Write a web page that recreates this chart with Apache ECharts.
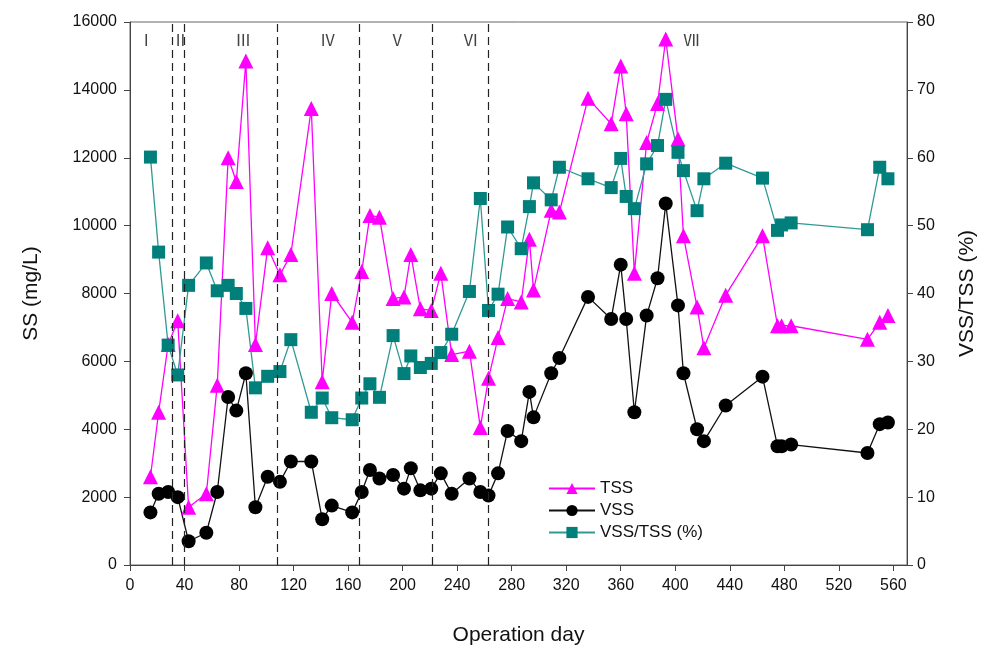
<!DOCTYPE html>
<html>
<head>
<meta charset="utf-8">
<script src="https://cdn.jsdelivr.net/npm/echarts@6/dist/echarts.min.js"></script>
<style>
  html, body { margin: 0; padding: 0; background: #fff; }
  #chart { width: 984px; height: 651px; }
</style>
</head>
<body>
<div id="chart"></div>
<script>
// operation days (shared by all three series)
const days = [15, 21, 28, 35, 43, 56, 64, 72, 78, 85, 92, 101, 110, 118, 133, 141, 148, 163, 170, 176,
  183, 193, 201, 206, 213, 221, 228, 236, 249, 257, 263, 270, 277, 287, 293, 296, 309, 315, 336, 353,
  360, 364, 370, 379, 387, 393, 402, 406, 416, 421, 437, 464, 475, 478, 485, 541, 550, 556]

const tss = [2600, 4500, 6500, 7200, 1700, 2100, 5300, 12000, 11300, 14850, 6500, 9350, 8550, 9150, 13450, 5400, 8000, 7150, 8650, 10300,
  10250, 7850, 7900, 9150, 7550, 7500, 8600, 6200, 6300, 4050, 5500, 6700, 7850, 7750, 9600, 8100, 10450, 10400, 13750, 13000,
  14700, 13300, 8600, 12450, 13600, 15500, 12550, 9700, 7600, 6400, 7950, 9700, 7050, 7050, 7050, 6650, 7150, 7350]

const vss = [1550, 2100, 2150, 2000, 700, 950, 2150, 4950, 4550, 5650, 1700, 2600, 2450, 3050, 3050, 1350, 1750, 1550, 2150, 2800,
  2550, 2650, 2250, 2850, 2200, 2250, 2700, 2100, 2550, 2150, 2050, 2700, 3950, 3650, 5100, 4350, 5650, 6100, 7900, 7250,
  8850, 7250, 4500, 7350, 8450, 10650, 7650, 5650, 4000, 3650, 4700, 5550, 3500, 3500, 3550, 3300, 4150, 4200]

const ratio = [60.1, 46.1, 32.4, 28.0, 41.2, 44.5, 40.4, 41.2, 40.0, 37.8, 26.1, 27.8, 28.5, 33.2, 22.5, 24.6, 21.7, 21.4, 24.6, 26.7,
  24.7, 33.8, 28.2, 30.8, 29.1, 29.7, 31.3, 34.0, 40.3, 54.0, 37.5, 39.9, 49.8, 46.6, 52.8, 56.3, 53.8, 58.6, 56.9, 55.6,
  59.9, 54.3, 52.5, 59.1, 61.8, 68.6, 60.8, 58.1, 52.2, 56.9, 59.2, 57.0, 49.3, 50.1, 50.4, 49.4, 58.6, 56.9]

// phase boundaries and labels
const phaseLines = [31, 40, 108, 168, 222, 263]
const phaseNames = ['Ⅰ', 'Ⅱ', 'Ⅲ', 'Ⅳ', 'Ⅴ', 'Ⅵ', 'Ⅶ']
const phaseLabelDays = [12, 37, 83, 145, 196, 250, 412]

const pair = (arr) => days.map((d, i) => [d, arr[i]])

const chart = echarts.init(document.getElementById('chart'))

const axisColor = '#444'
const font = 'Liberation Sans, Arial, sans-serif'

const option = {
  animation: false,
  textStyle: { fontFamily: font },
  grid: {
    left: 130, right: 77, top: 22, bottom: 86,
    outerBoundsMode: 'none',
    show: true, borderColor: '#666', borderWidth: 1
  },
  legend: {
    orient: 'vertical',
    left: 543, top: 475,
    itemWidth: 46, itemHeight: 14, itemGap: 5,
    textStyle: { fontSize: 17, color: '#111', fontFamily: font },
    data: ['TSS', 'VSS', 'VSS/TSS (%)']
  },
  xAxis: {
    type: 'value', min: 0, max: 570, interval: 40,
    name: 'Operation day', nameLocation: 'middle', nameGap: 60,
    nameTextStyle: { fontSize: 21, color: '#111' },
    axisLine: { lineStyle: { color: axisColor } },
    axisTick: { length: 6, lineStyle: { color: axisColor } },
    axisLabel: { fontSize: 16, color: '#111', margin: 13, showMaxLabel: false },
    splitLine: { show: false }
  },
  yAxis: [
    {
      type: 'value', min: 0, max: 16000, interval: 2000,
      name: 'SS (mg/L)', nameLocation: 'middle', nameGap: 88, nameRotate: 90,
      nameTextStyle: { fontSize: 21, color: '#111' },
      axisLine: { show: true, lineStyle: { color: axisColor } },
      axisTick: { show: true, length: 6, lineStyle: { color: axisColor } },
      axisLabel: { fontSize: 16, color: '#111', margin: 13, formatter: (v) => String(v) },
      splitLine: { show: false }
    },
    {
      type: 'value', min: 0, max: 80, interval: 10, position: 'right',
      name: 'VSS/TSS (%)', nameLocation: 'middle', nameGap: 50, nameRotate: 90,
      nameTextStyle: { fontSize: 21, color: '#111' },
      axisLine: { show: true, lineStyle: { color: axisColor } },
      axisTick: { show: true, length: 6, lineStyle: { color: axisColor } },
      axisLabel: { fontSize: 16, color: '#111', margin: 10 },
      splitLine: { show: false }
    }
  ],
  series: [
    {
      name: 'TSS', type: 'line', data: pair(tss),
      symbol: 'triangle', symbolSize: 15,
      itemStyle: { color: '#ff00ff' },
      lineStyle: { color: '#ff00ff', width: 1.3 },
      markLine: {
        silent: true, symbol: 'none', label: { show: false },
        lineStyle: { color: '#222', type: [8, 5], width: 1.2 },
        data: phaseLines.map((d) => ({ xAxis: d }))
      }
    },
    {
      name: 'VSS', type: 'line', data: pair(vss),
      symbol: 'circle', symbolSize: 14,
      itemStyle: { color: '#000' },
      lineStyle: { color: '#111', width: 1.3 }
    },
    {
      name: 'VSS/TSS (%)', type: 'line', yAxisIndex: 1, data: pair(ratio),
      symbol: 'rect', symbolSize: 13,
      itemStyle: { color: '#007f7b' },
      lineStyle: { color: '#2f9a94', width: 1.3 }
    },
    {
      name: 'phase', type: 'scatter', symbolSize: 0, silent: true,
      data: phaseLabelDays.map((d, i) => [d, 15470, phaseNames[i]]),
      label: {
        show: true, position: 'inside',
        formatter: (p) => p.value[2],
        fontSize: 16, color: '#111',
        fontFamily: 'Noto Sans CJK SC'
      }
    }
  ]
}

chart.setOption(option)
</script>
</body>
</html>
